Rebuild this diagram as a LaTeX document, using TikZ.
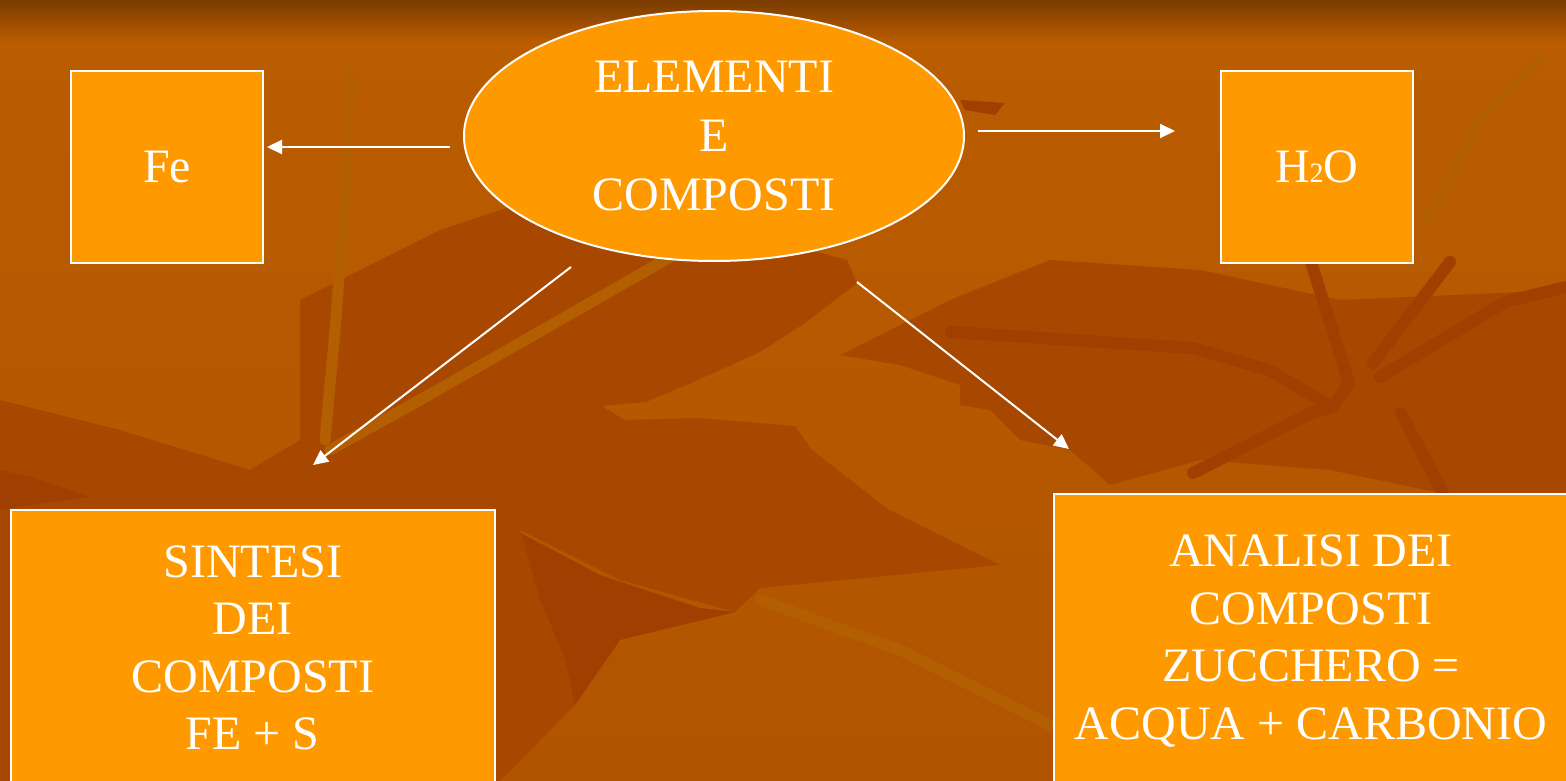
\documentclass[tikz,border=0pt]{standalone}
\usepackage{fontspec}
\setmainfont{Liberation Serif}
\usetikzlibrary{shapes.geometric,arrows.meta}
\definecolor{boxor}{HTML}{FF9900}
\definecolor{bgtop}{HTML}{7A3C00}
\definecolor{bgbase}{HTML}{B05400}
\definecolor{bgupper}{HTML}{BA5C00}
\definecolor{bgdark}{HTML}{A84800}
\definecolor{bgdarker}{HTML}{A03F00}
\definecolor{bgstem}{HTML}{B35E00}
\begin{document}
\begin{tikzpicture}[x=1pt,y=-1pt,
  boxst/.style={draw=white, line width=2pt, fill=boxor, text=white, align=center,
    inner sep=0pt, font=\fontsize{48}{57.5}\selectfont},
  ellst/.style={ellipse, draw=white, line width=2pt, fill=boxor, text=white, align=center,
    inner sep=0pt, font=\fontsize{48}{59.4}\selectfont},
  arr/.style={draw=white, line width=2pt, -{Triangle[length=15pt,width=14pt]}},
  leafd/.style={fill=bgdark},
  leafdd/.style={fill=bgdarker},
  stemd/.style={draw=bgdarker, line width=12pt, line cap=round, line join=round},
  steml/.style={draw=bgstem, line width=11pt, line cap=round, line join=round}]
\useasboundingbox (0,0) rectangle (1566,781);
\clip (0,0) rectangle (1566,781);
% background
\shade[top color=bgupper, bottom color=bgbase] (0,40) rectangle (1566,781);
\shade[top color=bgtop, bottom color=bgupper] (0,0) rectangle (1566,42);
% central dark leaf
\fill[leafd] (300,300) -- (440,230) -- (560,190) -- (700,220) -- (847,260) -- (857,283)
  -- (805,323) -- (760,352) -- (691,383) -- (646,402) -- (601,406) -- (625,420)
  -- (698,418) -- (795,426) -- (812,450) -- (889,510) -- (1000,565) -- (760,588)
  -- (735,612) -- (620,580) -- (520,530) -- (400,470) -- (300,440) -- cycle;
\fill[leafdd] (515,530) -- (600,575) -- (700,608) -- (735,612) -- (620,640) -- (575,705)
  -- (565,660) -- (540,600) -- cycle;
% right dark leaf
\fill[leafd] (840,355) -- (950,300) -- (1050,260) -- (1200,270) -- (1340,300) -- (1566,290)
  -- (1566,500) -- (1450,495) -- (1330,470) -- (1200,460) -- (1110,485) -- (1070,450)
  -- (1020,440) -- (990,410) -- (960,405) -- (960,385) -- (900,365) -- cycle;
% lower left darker area
\fill[leafd] (0,400) -- (120,430) -- (250,470) -- (300,440) -- (400,470) -- (520,530)
  -- (540,600) -- (565,660) -- (575,705) -- (500,781) -- (0,781) -- cycle;
% light stems
\draw[steml] (350,75) -- (345,200) -- (335,330) -- (325,440);
\draw[steml] (700,240) -- (560,320) -- (420,400) -- (330,450);
\draw[steml] (760,600) -- (900,650) -- (1060,730);
\draw[steml] (1540,60) -- (1480,120) -- (1420,230);
% dark stems right
\draw[stemd] (1311,262) -- (1349,383);
\draw[stemd] (1450,262) -- (1373,363);
\draw[stemd] (1566,287) -- (1505,302) -- (1380,377);
\draw[stemd] (951,332) -- (1193,348) -- (1269,370) -- (1332,407);
\draw[stemd] (1311,413) -- (1193,473);
\draw[stemd] (1401,413) -- (1443,493);
\draw[stemd] (1349,383) -- (1332,407) -- (1311,413);
% small dark pieces
\fill[leafdd] (0,470) -- (35,478) -- (90,497) -- (30,505) -- (0,510) -- cycle;
\fill[leafdd] (960,100) -- (1005,103) -- (995,115) -- (965,110) -- cycle;
% nodes
\node[ellst, minimum width=500pt, minimum height=250pt] (ell) at (714,136)
  {ELEMENTI\\E\\COMPOSTI};
\node[boxst, minimum width=192pt, minimum height=192pt] (fe) at (167,167) {Fe};
\node[boxst, minimum width=192pt, minimum height=192pt] (h2o) at (1316.7,167)
  {H{\fontsize{28}{28}\selectfont 2}O};
\node[boxst, minimum width=484.3pt, minimum height=276pt] (sint) at (252.8,648)
  {SINTESI\\DEI\\COMPOSTI\\FE + S};
\node[boxst, minimum width=514pt, minimum height=294pt] (anal) at (1311,641)
  {ANALISI DEI\\COMPOSTI\\ZUCCHERO =\\ACQUA + CARBONIO};
% connectors
\coordinate (a1s) at (450,147);
\coordinate (a1e) at (267,147);
\coordinate (a2s) at (978,131);
\coordinate (a2e) at (1175,131);
\coordinate (a3s) at (571,267);
\coordinate (a3e) at (313,465);
\coordinate (a4s) at (857,282);
\coordinate (a4e) at (1069,449);
\draw[arr] (a1s) -- (a1e);
\draw[arr] (a2s) -- (a2e);
\draw[arr] (a3s) -- (a3e);
\draw[arr] (a4s) -- (a4e);
\end{tikzpicture}
\end{document}
